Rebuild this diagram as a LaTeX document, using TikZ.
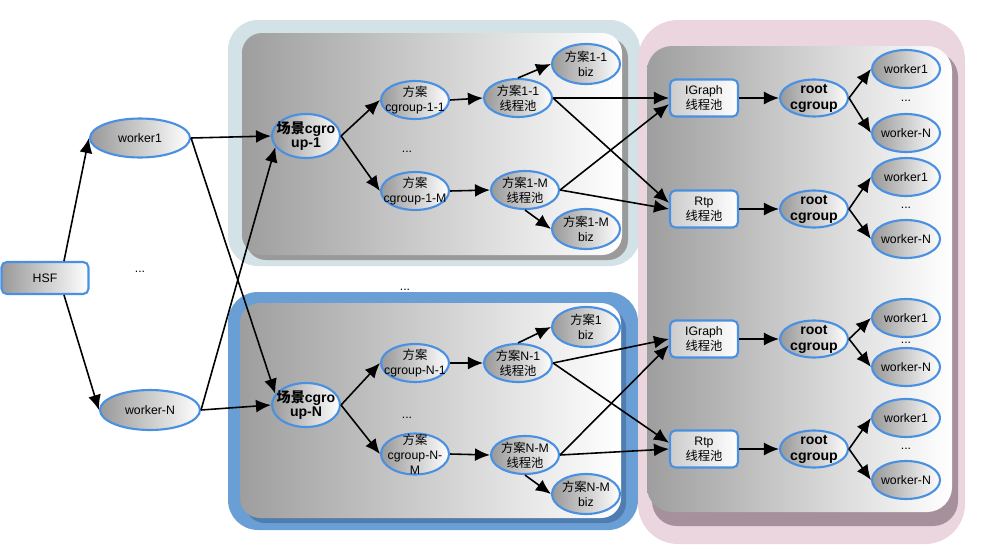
\documentclass[tikz,border=0pt]{standalone}
\usepackage{fontspec}
\setmainfont{Liberation Sans}
\newfontfamily\cjk{Noto Sans CJK SC}
\newcommand\zh[1]{{\cjk #1}}
\usetikzlibrary{arrows.meta,shapes.geometric}
\definecolor{nodeblue}{HTML}{4A90E2}
\definecolor{frameA}{HTML}{D3E2E6}
\definecolor{frameB}{HTML}{6A9FD6}
\definecolor{frameC}{HTML}{EBD5DE}
\definecolor{shadeA}{HTML}{9A9A9A}
\definecolor{shadeB}{HTML}{4F7DB0}
\definecolor{shadeC}{HTML}{A5909B}
\begin{document}
\begin{tikzpicture}[x=0.02cm,y=-0.02cm,
  oval/.style={ellipse, draw=nodeblue, line width=1.2pt, left color=black!40, right color=white,
    minimum width=1.36cm, minimum height=0.76cm, inner xsep=-8pt, inner ysep=-4pt,
    align=center, font=\fontsize{7}{8.5}\selectfont},
  sceneoval/.style={oval, minimum height=0.88cm, font=\fontsize{8}{8}\selectfont\bfseries},
  rootoval/.style={oval, minimum height=0.74cm, font=\fontsize{8}{9}\selectfont\bfseries},
  poolbox/.style={rectangle, rounded corners=3pt, draw=nodeblue, line width=1.2pt,
    left color=black!20, right color=white, minimum width=1.36cm, minimum height=0.74cm,
    inner sep=0pt, align=center, font=\fontsize{7}{8.5}\selectfont},
  arr/.style={-{Latex[length=3mm,width=2.6mm]}, line width=0.9pt},
  dots/.style={inner sep=0pt, font=\fontsize{7}{8}\selectfont}]
  \useasboundingbox (0,0) rectangle (1001,558);
  % frames
  \fill[frameA, rounded corners=0.6cm] (228,20) rectangle (640,266);
  \fill[shadeA, rounded corners=0.4cm] (246,38) rectangle (628,260);
  \path[left color=black!38, right color=white, rounded corners=0.4cm] (242,33) rectangle (622,255);
  \fill[frameB, rounded corners=0.6cm] (228,292) rectangle (638,530);
  \fill[shadeB, rounded corners=0.4cm] (245,309) rectangle (626,523);
  \path[left color=black!38, right color=white, rounded corners=0.4cm] (240,303) rectangle (621,518);
  \fill[frameC, rounded corners=0.8cm] (638,20) rectangle (965,544);
  \fill[shadeC, rounded corners=0.5cm] (652,52) rectangle (958,526);
  \path[left color=black!38, right color=white, rounded corners=0.5cm] (647,46) rectangle (952,512);
  % HSF and workers
  \node[poolbox, left color=black!40, minimum width=1.74cm, minimum height=0.64cm] (hsf) at (45,278) {HSF};
  \node[oval, minimum width=2cm, minimum height=0.78cm] (lw1) at (140,138) {worker1};
  \node[oval, minimum width=2cm, minimum height=0.8cm] (lwN) at (150,410) {worker-N};
  \node[dots] (ld) at (140,272) {...};
  \node[dots] (gd) at (405,290) {...};
  % scene 1
  \node[sceneoval] (s1) at (306,136) {\zh{场景}cgro\\up-1};
  \node[oval] (c11) at (415,100) {\zh{方案}\\cgroup-1-1};
  \node[oval] (c1M) at (415,191) {\zh{方案}\\cgroup-1-M};
  \node[dots] (d1) at (407,152) {...};
  \node[oval] (p11) at (518,98) {\zh{方案}1-1\\\zh{线程池}};
  \node[oval] (p1M) at (525,190) {\zh{方案}1-M\\\zh{线程池}};
  \node[oval, minimum height=0.8cm] (b11) at (586,64) {\zh{方案}1-1\\biz};
  \node[oval, minimum height=0.8cm] (b1M) at (586,229) {\zh{方案}1-M\\biz};
  % scene N
  \node[sceneoval] (sN) at (306,405) {\zh{场景}cgro\\up-N};
  \node[oval] (cN1) at (415,363) {\zh{方案}\\cgroup-N-1};
  \node[oval, minimum height=0.82cm] (cNM) at (415,454) {\zh{方案}\\cgroup-N-\\M};
  \node[dots] (dN) at (407,418) {...};
  \node[oval] (pN1) at (518,363) {\zh{方案}N-1\\\zh{线程池}};
  \node[oval] (pNM) at (525,455) {\zh{方案}N-M\\\zh{线程池}};
  \node[oval, minimum height=0.8cm] (bN1) at (586,327) {\zh{方案}1\\biz};
  \node[oval, minimum height=0.8cm] (bNM) at (586,494) {\zh{方案}N-M\\biz};
  % thread pools and root cgroups
  \foreach \y/\p/\a/\b/\i in {98/IGraph/69/133/1, 209/Rtp/177/239/2, 339/IGraph/318/367/3, 449/Rtp/418/480/4} {
    \node[poolbox] (q\i) at (704,\y) {\p\\\zh{线程池}};
    \node[rootoval] (r\i) at (814,\y) {root\\cgroup};
    \node[oval] (u\i) at (906,\a) {worker1};
    \node[oval] (v\i) at (906,\b) {worker-N};
    \node[dots] (w\i) at (906,{(\a+\b)/2}) {...};
    \draw[arr] (q\i) -- (r\i);
    \draw[arr] (r\i.east) -- (u\i.west);
    \draw[arr] (r\i.east) -- (v\i.west);}
  % connectors
  \draw[arr] ([xshift=0.38cm]hsf.north) -- (lw1.west);
  \draw[arr] ([xshift=0.38cm]hsf.south) -- (lwN.west);
  \foreach \a/\b in {lw1.east/s1.west, lw1.east/sN.160, lwN.east/s1.200, lwN.east/sN.west,
      s1.east/c11.west, s1.east/c1M.west, c11.east/p11.west, c1M.east/p1M.west,
      p11.north/b11.west, p1M.south/b1M.west,
      sN.east/cN1.west, sN.east/cNM.west, cN1.east/pN1.west, cNM.east/pNM.west,
      pN1.north/bN1.west, pNM.south/bNM.west,
      p11.east/q1.west, p11.east/q2.170, p1M.east/q1.190, p1M.east/q2.west,
      pN1.east/q3.west, pN1.east/q4.170, pNM.east/q3.190, pNM.east/q4.west}
    \draw[arr] (\a) -- (\b);
\end{tikzpicture}
\end{document}
